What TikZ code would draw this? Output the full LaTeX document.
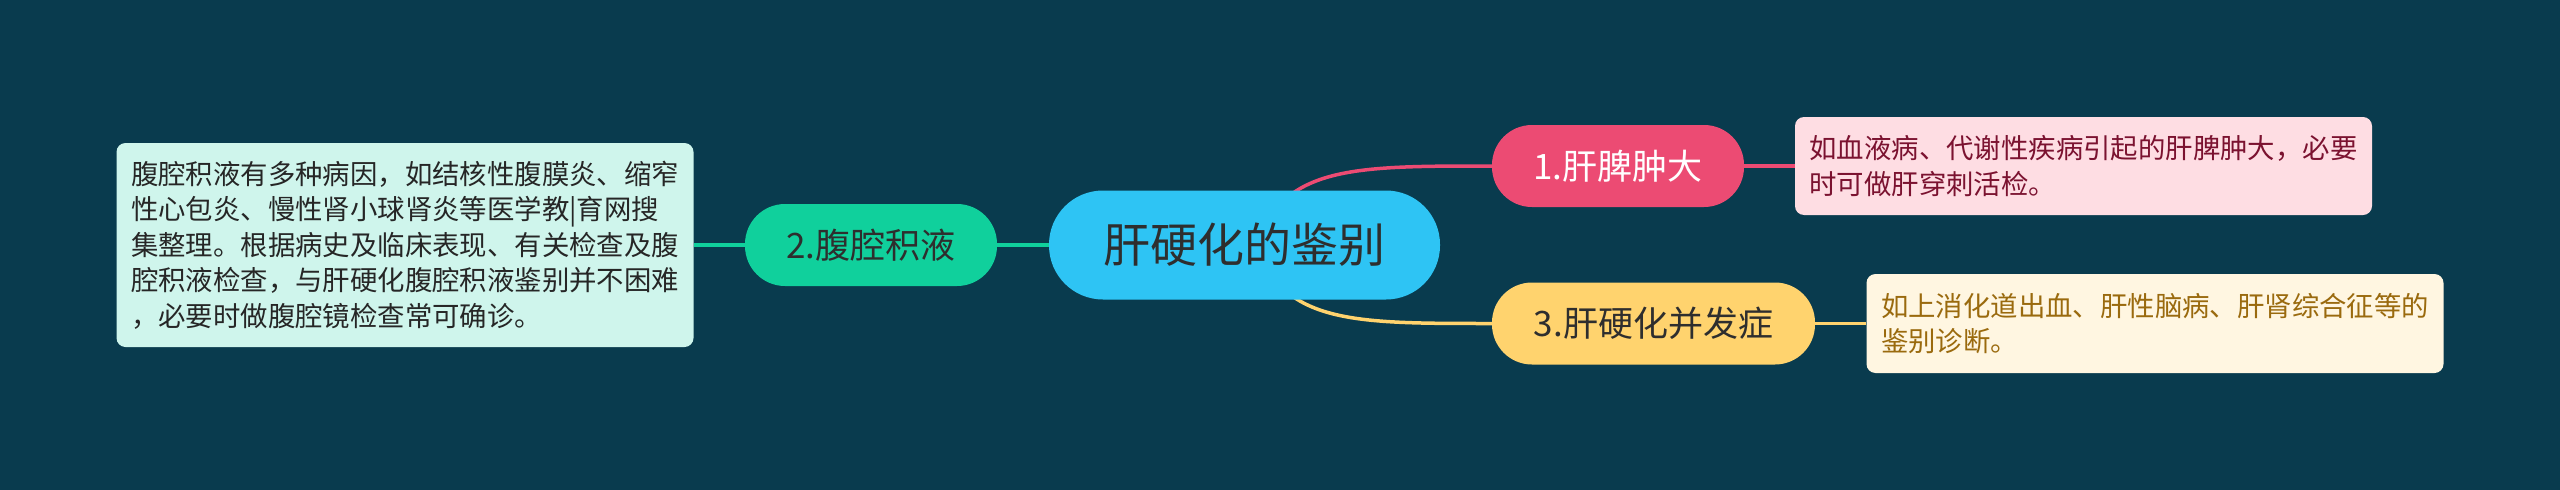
\documentclass[tikz,border=0pt]{standalone}
\usepackage{fontspec}
\setmainfont{Noto Sans CJK SC}
\usetikzlibrary{backgrounds}
\definecolor{bg}{HTML}{093B4E}
\definecolor{cfill}{HTML}{2EC4F4}
\definecolor{tealc}{HTML}{10D09C}
\definecolor{pinkc}{HTML}{EC4B73}
\definecolor{yelc}{HTML}{FFD36E}
\definecolor{darktxt}{HTML}{2E2E2E}
\definecolor{mintbox}{HTML}{CFF5EC}
\definecolor{pinkbox}{HTML}{FEDDE3}
\definecolor{pinktxt}{HTML}{7B1230}
\definecolor{creambox}{HTML}{FFF6E1}
\definecolor{creamtxt}{HTML}{9A6A0E}
\tikzset{
  centernode/.style={fill=cfill, text=darktxt, rounded corners=54pt, minimum width=391pt, minimum height=109pt, inner sep=0pt, font=\fontsize{47}{56}\selectfont},
  topicnode/.style={rounded corners=40pt, minimum height=82pt, inner sep=0pt, font=\fontsize{35}{42}\selectfont},
  notebox/.style={rounded corners=9pt, inner xsep=14.5pt, inner ysep=0pt, text width=548pt, align=left, font=\fontsize{27.4}{35.5}\selectfont},
  link/.style={line width=3.5pt},
}
\begin{document}
\begin{tikzpicture}[x=1pt,y=-1pt]
\useasboundingbox (0,0) rectangle (2560,490);
% nodes
\node[centernode] (c) at (1244.5,245) {肝硬化的鉴别};
\node[topicnode, fill=tealc, text=darktxt, minimum width=252pt] (n2) at (871,245) {2.腹腔积液};
\node[topicnode, fill=pinkc, text=white, minimum width=252pt] (n1) at (1618,166) {1.肝脾肿大};
\node[topicnode, fill=yelc, text=darktxt, minimum width=323pt] (n3) at (1653.5,323.5) {3.肝硬化并发症};
\node[notebox, fill=mintbox, text=black!85, minimum width=576pt, minimum height=204pt] (b2) at (405,245) {腹腔积液有多种病因，如结核性腹膜炎、缩窄\\性心包炎、慢性肾小球肾炎等医学教|育网搜\\集整理。根据病史及临床表现、有关检查及腹\\腔积液检查，与肝硬化腹腔积液鉴别并不困难\\，必要时做腹腔镜检查常可确诊。};
\node[notebox, fill=pinkbox, text=pinktxt, minimum width=577pt, minimum height=98pt] (b1) at (2083.5,166) {如血液病、代谢性疾病引起的肝脾肿大，必要\\时可做肝穿刺活检。};
\node[notebox, fill=creambox, text=creamtxt, minimum width=576pt, minimum height=99pt] (b3) at (2155,323.5) {如上消化道出血、肝性脑病、肝肾综合征等的\\鉴别诊断。};
\begin{pgfonlayer}{background}
\fill[bg] (0,0) rectangle (2560,490);
\coordinate (cs) at (1255,245);
\draw[link, tealc] (c.west) -- (n2.east);
\draw[link, tealc] (n2.west) -- (b2.east);
\draw[link, pinkc] (cs) .. controls +(30,-79) and +(-140,0) .. (n1.west);
\draw[link, yelc] (cs) .. controls +(30,78.5) and +(-140,0) .. (n3.west);
\draw[link, pinkc] (n1.east) -- (b1.west);
\draw[link, yelc] (n3.east) -- (b3.west);
\end{pgfonlayer}
\end{tikzpicture}
\end{document}
